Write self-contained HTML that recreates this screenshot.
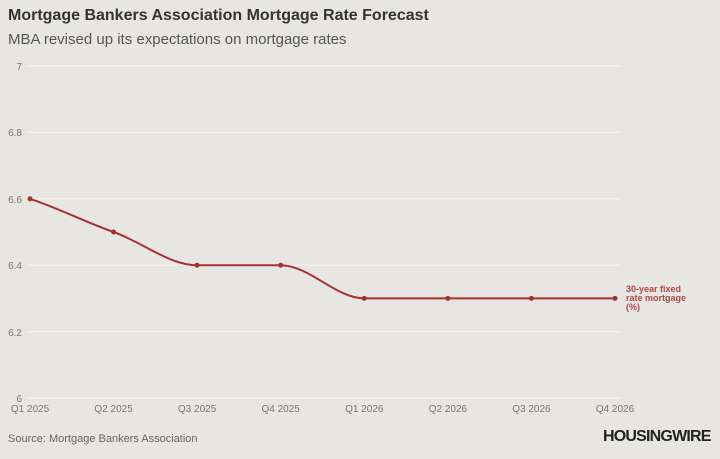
<!DOCTYPE html>
<html><head><meta charset="utf-8"><style>
html,body{margin:0;padding:0;}
body{width:720px;height:459px;background:#e8e6e2;font-family:"Liberation Sans",sans-serif;overflow:hidden;position:relative;}
.t{position:absolute;left:8px;top:7px;font-size:16px;font-weight:bold;color:#333;}
.s{position:absolute;left:8px;top:31px;font-size:15px;color:#555;}
.src{position:absolute;left:8px;top:433px;font-size:11px;color:#666;}
.hw{position:absolute;left:603px;top:428px;font-size:16px;font-weight:bold;color:#222;letter-spacing:-0.8px;}
</style></head><body>
<div class="t">Mortgage Bankers Association Mortgage Rate Forecast</div>
<div class="s">MBA revised up its expectations on mortgage rates</div>
<svg width="720" height="459" style="position:absolute;left:0;top:0" font-family="Liberation Sans, sans-serif">
<g stroke="#f3f2ef" stroke-width="1.5">
<line x1="28" y1="66" x2="620" y2="66"/><line x1="28" y1="132.4" x2="620" y2="132.4"/>
<line x1="28" y1="198.8" x2="620" y2="198.8"/><line x1="28" y1="265.2" x2="620" y2="265.2"/>
<line x1="28" y1="331.6" x2="620" y2="331.6"/><line x1="28" y1="398" x2="620" y2="398"/>
</g>
<g font-size="10" fill="#777" text-anchor="end">
<text x="22" y="70">7</text><text x="22" y="136">6.8</text><text x="22" y="203">6.6</text>
<text x="22" y="269">6.4</text><text x="22" y="336">6.2</text><text x="22" y="402">6</text>
</g>
<g font-size="10" fill="#777" text-anchor="middle">
<text x="30" y="412">Q1 2025</text><text x="113.6" y="412">Q2 2025</text><text x="197.1" y="412">Q3 2025</text>
<text x="280.7" y="412">Q4 2025</text><text x="364.3" y="412">Q1 2026</text><text x="447.9" y="412">Q2 2026</text>
<text x="531.4" y="412">Q3 2026</text><text x="615" y="412">Q4 2026</text>
</g>
<path d="M30,198.8 C58,208 85,222 113.6,232 C142,242 169,265.2 197.1,265.2 C225,265.2 253,265.2 280.7,265.2 C309,265.2 336,298.4 364.3,298.4 L615,298.4" fill="none" stroke="#a33232" stroke-width="2"/>
<g fill="#a33232">
<circle cx="30" cy="198.8" r="2.5"/><circle cx="113.6" cy="232" r="2.5"/><circle cx="197.1" cy="265.2" r="2.5"/>
<circle cx="280.7" cy="265.2" r="2.5"/><circle cx="364.3" cy="298.4" r="2.5"/><circle cx="447.9" cy="298.4" r="2.5"/>
<circle cx="531.4" cy="298.4" r="2.5"/><circle cx="615" cy="298.4" r="2.5"/>
</g>
<g font-size="9" fill="#b04848" font-weight="bold">
<text x="626" y="292">30-year fixed</text><text x="626" y="301">rate mortgage</text><text x="626" y="310">(%)</text>
</g>
</svg>
<div class="src">Source: Mortgage Bankers Association</div>
<div class="hw">HOUSINGWIRE</div>
</body></html>
